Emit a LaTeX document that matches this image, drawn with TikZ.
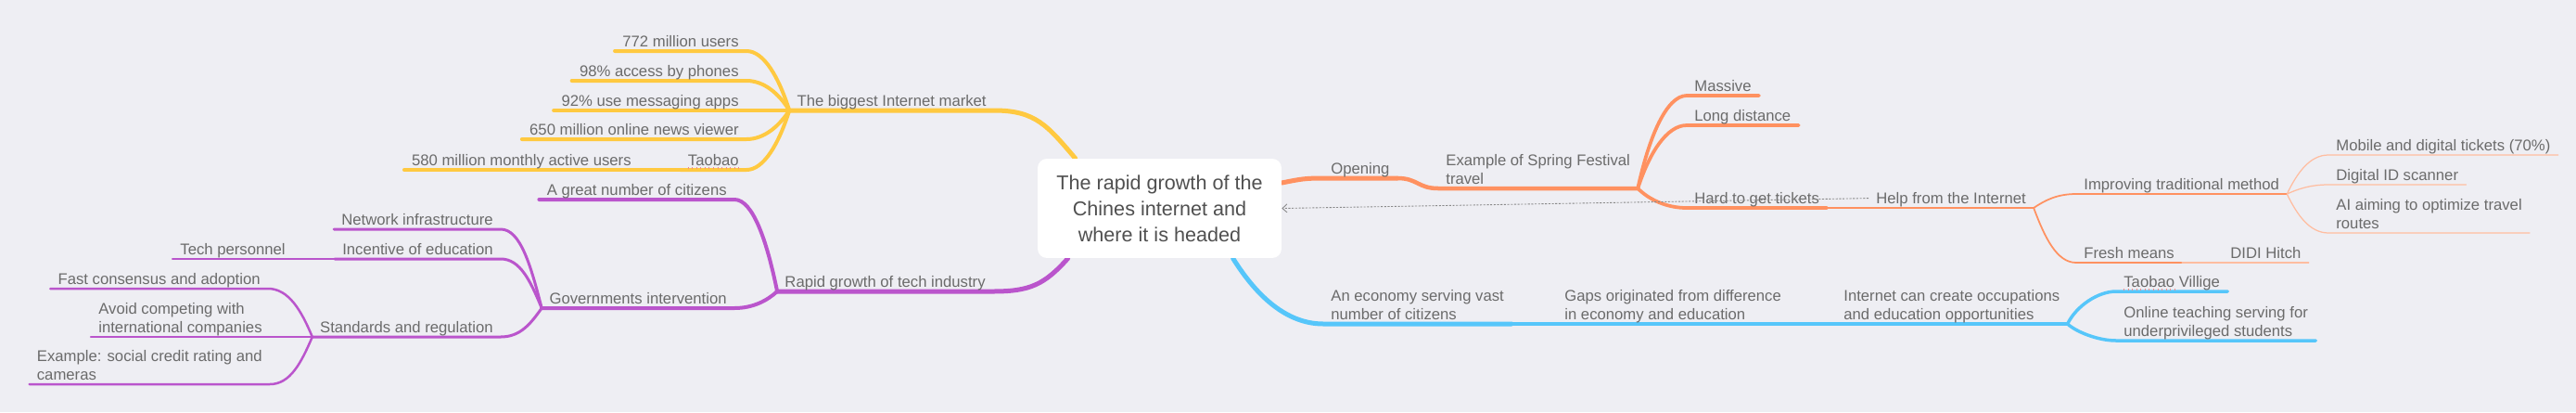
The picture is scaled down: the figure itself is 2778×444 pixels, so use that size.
\documentclass[tikz,border=0pt]{standalone}
\usepackage{fontspec}
\setmainfont{Liberation Sans}
\usetikzlibrary{arrows.meta,positioning,calc,backgrounds}
\definecolor{mapBg}{HTML}{EEEEF3}
\definecolor{txtGray}{HTML}{6B6B6B}
\definecolor{rootTxt}{HTML}{505050}
\definecolor{mYellow}{HTML}{FFC940}
\definecolor{mPurple}{HTML}{BA55CC}
\definecolor{mOrange}{HTML}{FF9160}
\definecolor{mBlue}{HTML}{56C6FA}
\definecolor{linkGray}{HTML}{8A8A8A}
\definecolor{spellRed}{HTML}{F08A8A}
\tikzset{
  topic/.style={font=\fontsize{9.5}{11.4}\selectfont, text=txtGray,
    inner xsep=0.16cm, inner ysep=0.08cm, text depth=0pt, align=left},
  ltopic/.style={topic, anchor=south east},
  rtopic/.style={topic, anchor=south west},
  central/.style={fill=white, rounded corners=0.2cm, minimum width=5.26cm,
    minimum height=2.14cm, align=center, text=rootTxt,
    font=\fontsize{12.3}{15.9}\selectfont},
  branch/.style={draw=#1, line cap=round, line join=round},
  xref/.style={draw=linkGray, line width=0.5pt, dash pattern=on 1.2pt off 0.9pt,
    -{Straight Barb[length=1mm,width=1.8mm]}},
  spell/.style={draw=spellRed, line width=0.6pt, dotted}
}

\begin{document}
\begin{tikzpicture}[x=0.02cm,y=-0.02cm]
  \useasboundingbox (0,0) rectangle (2778,444);
  \node[central] (root) at (1250.5,224.5) {The rapid growth of the\\Chines internet and\\where it is headed};

  % market side
  \node[ltopic] (market) at (1072,119) {The biggest Internet market};
  \node[ltopic] (users) at (805,55) {772 million users};
  \node[ltopic] (phones) at (805,87) {98\% access by phones};
  \node[ltopic] (msg) at (805,119) {92\% use messaging apps};
  \node[ltopic] (news) at (805,150) {650 million online news viewer};
  \node[ltopic] (taobao) at (805,183) {Taobao};
  \node[ltopic] (active) at (689,183) {580 million monthly active users};

  % tech industry side
  \node[ltopic] (techind) at (1071,314) {Rapid growth of tech industry};
  \node[ltopic] (citizens) at (792,215) {A great number of citizens};
  \node[ltopic] (govern) at (792,332) {Governments intervention};
  \node[ltopic] (network) at (540,247) {Network infrastructure};
  \node[ltopic] (incent) at (540,279) {Incentive of education};
  \node[ltopic] (techpers) at (316,279) {Tech personnel};
  \node[ltopic] (standard) at (540,363) {Standards and regulation};
  \node[ltopic] (consensus) at (289,311) {Fast consensus and adoption};
  \node[ltopic] (avoid) at (291,363) {Avoid competing with\\international companies};
  \node[ltopic] (credit) at (291,414) {Example: social credit rating and\\cameras};

  % opening side
  \node[rtopic] (opening) at (1427,192) {Opening};
  \node[rtopic] (spring) at (1551,203) {Example of Spring Festival\\travel};
  \node[rtopic] (massive) at (1819,103) {Massive};
  \node[rtopic] (distance) at (1819,135) {Long distance};
  \node[rtopic] (tickets) at (1819,224) {Hard to get tickets};
  \node[rtopic] (help) at (2015,224) {Help from the Internet};
  \node[rtopic] (improve) at (2239,209) {Improving traditional method};
  \node[rtopic] (fresh) at (2239,283) {Fresh means};
  \node[rtopic] (didi) at (2397,283) {DIDI Hitch};
  \node[rtopic] (mobile) at (2511,167) {Mobile and digital tickets (70\%)};
  \node[rtopic] (scanner) at (2511,199) {Digital ID scanner};
  \node[rtopic] (ai) at (2511,251) {AI aiming to optimize travel\\routes};

  % economy side
  \node[rtopic] (economy) at (1427,349) {An economy serving vast\\number of citizens};
  \node[rtopic] (gaps) at (1679,349) {Gaps originated from difference\\in economy and education};
  \node[rtopic] (occup) at (1980,349) {Internet can create occupations\\and education opportunities};
  \node[rtopic] (village) at (2282,314) {Taobao Villige};
  \node[rtopic] (teach) at (2282,367) {Online teaching serving for\\underprivileged students};

  \begin{scope}[on background layer]
    \fill[mapBg] (0,0) rectangle (2778,444);
    % yellow
    \draw[branch=mYellow, line width=0.1cm] ([xshift=0.82cm]root.north west) .. controls +(-30,-35) and +(45,0) .. (market.south east) -- (market.south west);
    \foreach \n/\d in {users/-35,phones/-18,msg/0,news/17,taobao/35}
      \draw[branch=mYellow, line width=0.08cm] (market.south west) .. controls +(-11,\d) and +(19,0) .. (\n.south east) -- (\n.south west);
    \draw[branch=mYellow, line width=0.07cm] (taobao.south west) -- (active.south east) -- (active.south west);
    % purple
    \draw[branch=mPurple, line width=0.1cm] ([xshift=0.66cm]root.south west) .. controls +(-25,28) and +(40,0) .. (techind.south east) -- (techind.south west);
    \foreach \n/\d in {citizens/-54,govern/10}
      \draw[branch=mPurple, line width=0.08cm] (techind.south west) .. controls +(-11,\d) and +(20,0) .. (\n.south east) -- (\n.south west);
    \foreach \n/\d in {network/-47,incent/-29,standard/17}
      \draw[branch=mPurple, line width=0.06cm] (govern.south west) .. controls +(-12,\d) and +(21,0) .. (\n.south east) -- (\n.south west);
    \draw[branch=mPurple, line width=0.05cm] (incent.south west) -- (techpers.south east) -- (techpers.south west);
    \foreach \n/\d in {consensus/-29,avoid/0,credit/28}
      \draw[branch=mPurple, line width=0.05cm] (standard.south west) .. controls +(-12,\d) and +(22,0) .. (\n.south east) -- (\n.south west);
    % orange
    \draw[branch=mOrange, line width=0.1cm] ([yshift=0.55cm]root.east) .. controls +(20,-4) and +(-20,0) .. (opening.south west) -- (opening.south east);
    \draw[branch=mOrange, line width=0.09cm] (opening.south east) .. controls +(22,0) and +(-22,0) .. (spring.south west) -- (spring.south east);
    \foreach \n/\d in {massive/-55,distance/-37,tickets/12}
      \draw[branch=mOrange, line width=0.075cm] (spring.south east) .. controls +(12,\d) and +(-22,0) .. (\n.south west) -- (\n.south east);
    \draw[branch=mOrange, line width=0.045cm] (tickets.south east) -- (help.south west) -- (help.south east);
    \foreach \n/\d in {improve/-8,fresh/32}
      \draw[branch=mOrange, line width=0.035cm] (help.south east) .. controls +(12,\d) and +(-21,0) .. (\n.south west) -- (\n.south east);
    \foreach \n/\d in {mobile/-23,scanner/-5,ai/23}
      \draw[branch=mOrange!60!white, line width=0.025cm] (improve.south east) .. controls +(11,\d) and +(-20,0) .. (\n.south west) -- (\n.south east);
    \draw[branch=mOrange!60!white, line width=0.025cm] (fresh.south east) -- (didi.south west) -- (didi.south east);
    % blue
    \draw[branch=mBlue, line width=0.1cm] ([xshift=4.22cm]root.south west) .. controls +(25,40) and +(-40,0) .. (economy.south west) -- (economy.south east);
    \draw[branch=mBlue, line width=0.09cm] (economy.south east) -- (gaps.south west) -- (gaps.south east);
    \draw[branch=mBlue, line width=0.08cm] (gaps.south east) -- (occup.south west) -- (occup.south east);
    \foreach \n/\d in {village/-20,teach/9}
      \draw[branch=mBlue, line width=0.07cm] (occup.south east) .. controls +(10,\d) and +(-19,0) .. (\n.south west) -- (\n.south east);
  \end{scope}

  \draw[xref] (help.west) -- (root.east);
  \draw[spell] ([xshift=0.16cm,yshift=0.04cm]taobao.south west) -- ([xshift=-0.16cm,yshift=0.04cm]taobao.south east);
  \draw[spell] ([xshift=0.16cm,yshift=0.04cm]village.south west) -- ++(57,0);
\end{tikzpicture}
\end{document}
